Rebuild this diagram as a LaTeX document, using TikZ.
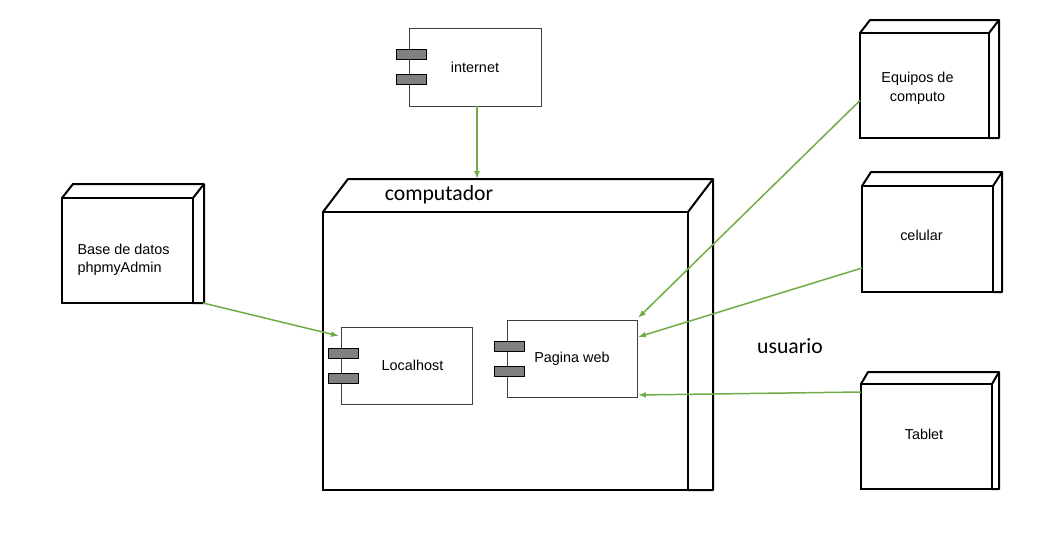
\documentclass[tikz,border=0pt]{standalone}
\usepackage{fontspec}
\setmainfont{Liberation Sans}
\newfontfamily\titlefont{Carlito}
\usetikzlibrary{arrows.meta,calc}
\definecolor{linkgreen}{HTML}{70AD47}
\tikzset{%
  >={Latex[width=6pt,length=8pt]},
  % Specifications for style of nodes:
       nodebox/.style = {rectangle, draw=black, line width=2pt, outer sep=0pt,
                         minimum width=131pt, minimum height=105pt, align=center,
                         font=\fontsize{14.4}{19}\selectfont},
       compbox/.style = {rectangle, draw=black!75, line width=1pt, outer sep=0pt,
                         minimum width=131pt, minimum height=77pt,
                         font=\fontsize{14.4}{17}\selectfont},
           lug/.style = {rectangle, draw=black, fill=black!50, line width=1pt,
                         minimum width=30pt, minimum height=10pt, inner sep=0pt},
          link/.style = {->, draw=linkgreen, line width=1.5pt},
         title/.style = {font=\titlefont\fontsize{21.7}{26}\selectfont},
}
% top and side faces of a node box
\newcommand{\nodedepth}[3]{%
  \draw[line width=2pt, line join=round] (#1.north west) -- ++(#2,-#3)
    -- ($(#1.north east)+(#2,-#3)$) -- ($(#1.south east)+(#2,0)$) -- (#1.south east);
  \draw[line width=2pt] (#1.north east) -- ++(#2,-#3);
}
% the two lugs of a component
\newcommand{\complugs}[1]{%
  \node (#1lugA) [lug] at ($(#1.west)+(2,-12.5)$) {};
  \node (#1lugB) [lug] at ($(#1.west)+(2,12.5)$) {};
}

\begin{document}
\begin{tikzpicture}[x=1pt, y=-1pt]
  \useasboundingbox (0,0) rectangle (1050,533);
  % Specification of nodes (position, etc.)

  \node (comp)       [nodebox, minimum width=365pt, minimum height=278pt] at (505.5,351) {};
  \nodedepth{comp}{25}{33}
  \coordinate (comptop) at ($(comp.north west)+(0,-33)$);
  \node (comptitle)  [title] at ($(comp.north west)+(116,-17)$) {computador};

  \node (internet)   [compbox, minimum width=132pt, minimum height=78pt] at (475,67) {internet};
  \complugs{internet}
  \node (localhost)  [compbox] at (406.5,365.5) {\hspace*{12pt}Localhost};
  \complugs{localhost}
  \node (paginaweb)  [compbox, minimum width=130pt] at (572,358.5) {Pagina web};
  \complugs{paginaweb}

  \node (base)       [nodebox] at (127.5,250.5) {};
  \nodedepth{base}{11}{14}
  \node (basetext)   [font=\fontsize{14.4}{18}\selectfont, align=left, anchor=west]
                     at ($(base.west)+(12,9)$) {Base de datos\\phpmyAdmin};

  \node (equipos)    [nodebox, minimum width=129pt] at (924.5,85.5) {};
  \nodedepth{equipos}{10}{13}
  \node (equipostext) [font=\fontsize{14.4}{19.5}\selectfont, align=center]
                     at ($(equipos.center)+(-7,3)$) {Equipos de\\computo};
  \node (celular)    [nodebox, minimum height=106pt] at (927.5,239) {\raisebox{8pt}{celular}\hspace*{12pt}};
  \nodedepth{celular}{9}{14}
  \node (tablet)     [nodebox] at (926.5,436.5) {\raisebox{4pt}{Tablet}\hspace*{5pt}};
  \nodedepth{tablet}{7}{12}

  \node (usuario)    [title] at (790,346) {usuario};

  \draw[link] (internet.south -| 477,0) -- (comptop -| 477,0);
  \draw[link] ($(base.south east)+(10,0)$) -- ($(localhost.north west)+(-2,9)$);
  \draw[link] ($(equipos.west)+(0,15)$) -- ($(paginaweb.north east)+(1,-2)$);
  \draw[link] ($(celular.west)+(0,29)$) -- ($(paginaweb.north east)+(1,17)$);
  \draw[link] ($(tablet.north west)+(0,8)$) -- ($(paginaweb.south east)+(1,-2)$);

\end{tikzpicture}
\end{document}
